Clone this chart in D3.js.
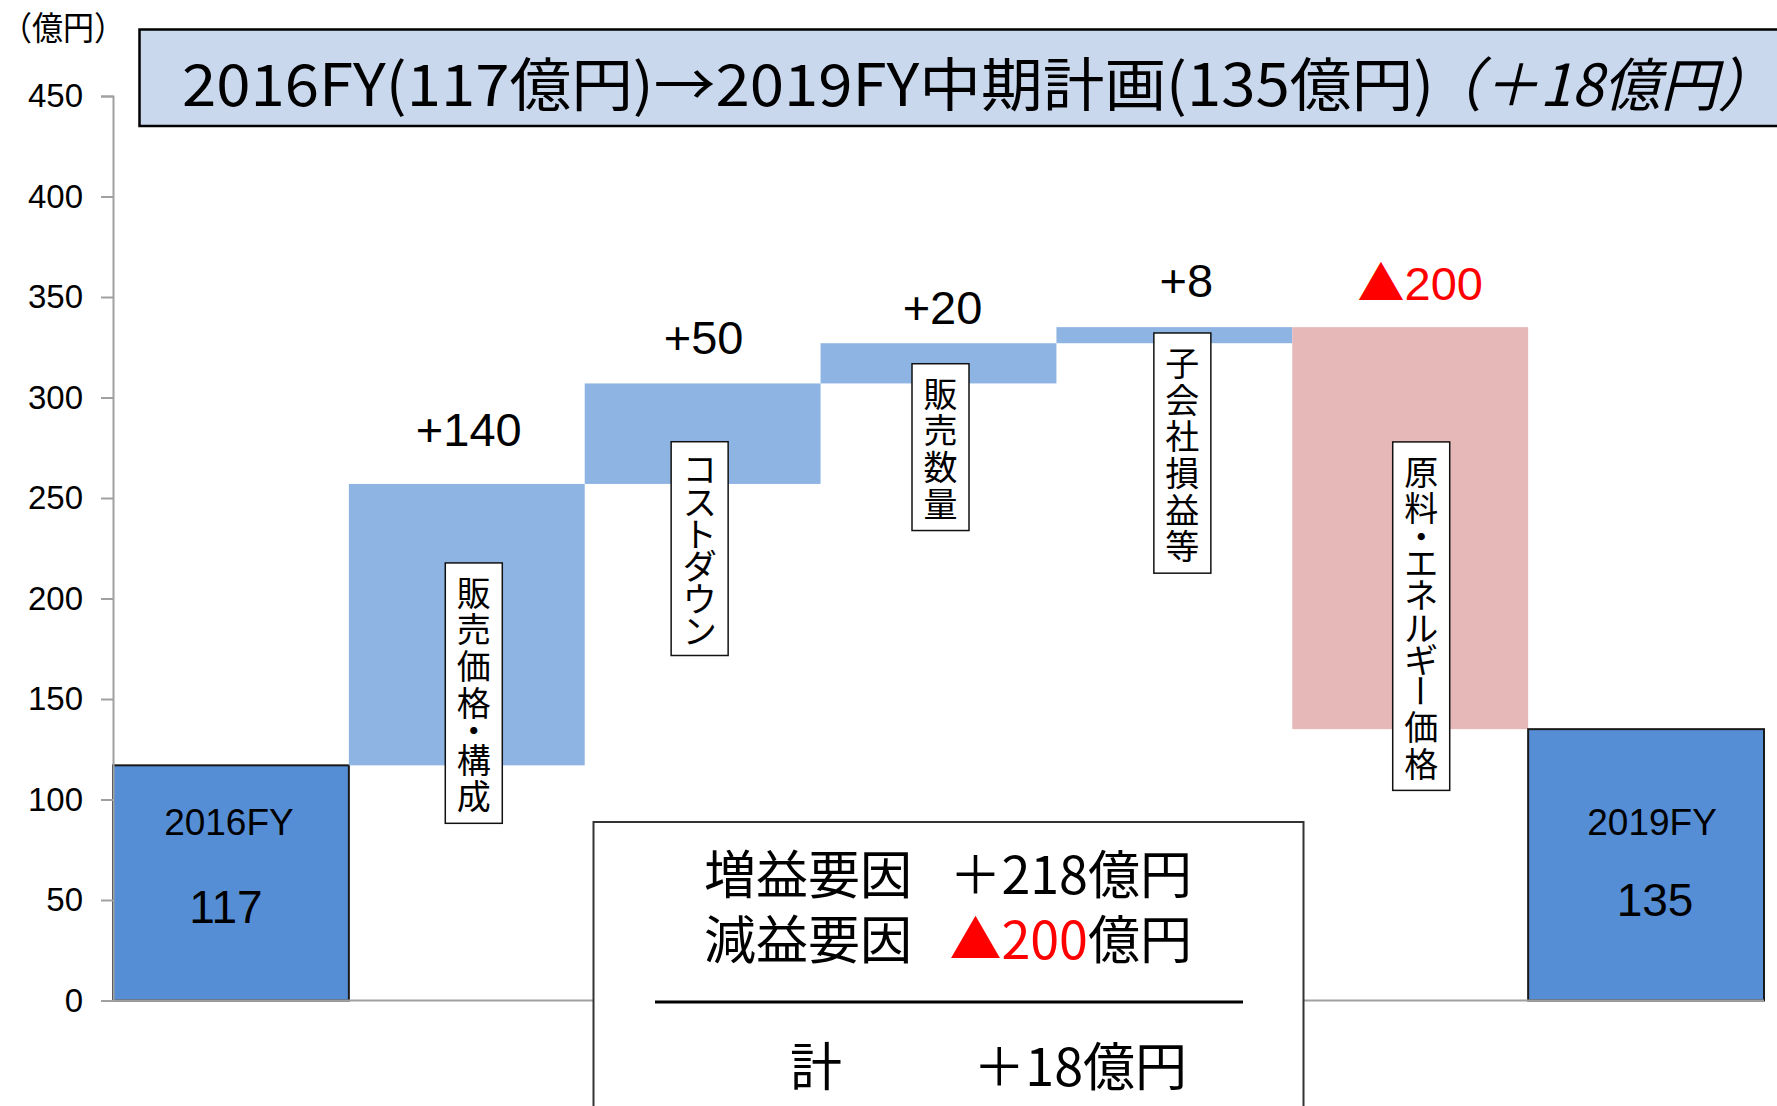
<!DOCTYPE html>
<html><head><meta charset="utf-8">
<script src="https://cdn.jsdelivr.net/npm/d3@7"></script>
<style>
html,body{margin:0;padding:0;background:#fff;}
svg{display:block;}
</style></head><body>
<svg id="chart" width="1777" height="1106"></svg>
<script>
// ---- data ----
const categories = ["2016FY","販売価格・構成","コストダウン","販売数量","子会社損益等","原料・エネルギー価格","2019FY"];
const kinds = ["total","up","up","up","up","down","total"];
const values = [117, 140, 50, 20, 8, -200, 135];
const valueLabels = ["117","+140","+50","+20","+8","▲200","135"];
const yTicks = [0,50,100,150,200,250,300,350,400,450];
const unitLabel = "（億円）";
const titleMain = "2016FY(117億円)→2019FY中期計画(135億円)";
const titleDelta = "（＋18億円）";
const summaryRows = [
  {name:"増益要因", parts:[{t:"＋218", red:false},{t:"億円", red:false}]},
  {name:"減益要因", parts:[{t:"▲", red:true},{t:"200", red:true},{t:"億円", red:false}]}
];
const summaryTotal = {name:"計", value:"＋18億円"};

// ---- layout / style ----
const svg = d3.select("#chart");
const x = d3.scaleBand().domain(categories).range([113,1764]).paddingInner(0).paddingOuter(0);
const y = d3.scaleLinear().domain([0,450]).range([1000.5,96]);
const colors = {total:"#558ED5", up:"#8EB4E3", down:"#E6B9B8"};
const CJK = "'Noto Sans CJK JP','Noto Sans CJK SC',sans-serif";
const LAT = "'Liberation Sans',Arial,'Noto Sans CJK JP',sans-serif";

let run = 0;
const bars = categories.map((c,i)=>{
  let lo, hi;
  if (kinds[i]==="total"){ lo=0; hi=values[i]; run=values[i]; }
  else { const s=run, e=run+values[i]; lo=Math.min(s,e); hi=Math.max(s,e); run=e; }
  return {c, i, lo, hi, kind:kinds[i]};
});

// bars
svg.append("g").selectAll("rect").data(bars).join("rect")
  .attr("x", d=>x(d.c)).attr("width", x.bandwidth())
  .attr("y", d=>y(d.hi)).attr("height", d=>y(d.lo)-y(d.hi))
  .attr("fill", d=>colors[d.kind])
  .attr("stroke", d=>d.kind==="total" ? "#1a1a1a" : "none")
  .attr("stroke-width", 2);

// axis
const ax = d3.axisLeft(y).tickValues(yTicks).tickSize(12).tickPadding(18).tickFormat(d3.format("d"));
const g = svg.append("g").attr("transform","translate(113,0)").call(ax);
g.select(".domain").attr("stroke","#a0a0a0").attr("stroke-width",2);
g.selectAll(".tick line").attr("stroke","#a0a0a0").attr("stroke-width",2);
g.selectAll(".tick text").attr("font-family",LAT).attr("font-size",33).attr("fill","#000");
svg.append("line").attr("x1",113).attr("x2",x.range()[1]).attr("y1",y(0)).attr("y2",y(0))
  .attr("stroke","#a0a0a0").attr("stroke-width",2);

// unit label
svg.append("text").attr("x",1).attr("y",40).attr("font-family",CJK).attr("font-size",33)
  .attr("textLength",124).attr("lengthAdjust","spacingAndGlyphs").text(unitLabel);

// vertical category boxes (annotation layout)
const boxLayout = [null,{dx:7,top:217.7},{dx:-3,top:278},{dx:2,top:316.8},{dx:8,top:332.1},{dx:11,top:277.9},null];
const pitch = 36.7, pad = 10, boxW = 57;
function weight(ch){
  if (ch==="・") return 0.55;
  const cp = ch.codePointAt(0);
  if (cp>=0x30A0 && cp<=0x30FF) return 0.88;
  return 1;
}
bars.forEach(b=>{
  const L = boxLayout[b.i]; if(!L) return;
  const chars = Array.from(b.c);
  const total = d3.sum(chars, weight);
  const cx = x(b.c)+x.bandwidth()/2+L.dx;
  const top = y(L.top);
  const bg = svg.append("g");
  bg.append("rect").attr("x",cx-boxW/2).attr("y",top).attr("width",boxW).attr("height",pad*2+total*pitch)
    .attr("fill","#fff").attr("stroke","#111").attr("stroke-width",1.5);
  let cum = 0;
  chars.forEach(ch=>{
    const w = weight(ch);
    const cy = top+pad+(cum+w/2)*pitch;
    cum += w;
    const t = bg.append("text").attr("x",cx).attr("y",cy).attr("text-anchor","middle")
      .attr("dominant-baseline","central").attr("font-family",CJK).attr("font-size",34).text(ch);
    if (ch==="ー") t.attr("transform",`rotate(90,${cx},${cy})`);
  });
});

// value labels above delta bars
const valueLayout = [null,{dx:2,lift:38},{dx:1,lift:29},{dx:4,lift:19},{dx:12,lift:30},{dx:10,lift:27},null];
bars.forEach(b=>{
  const L = valueLayout[b.i]; if(!L) return;
  const lab = valueLabels[b.i];
  const t = svg.append("text").attr("x",x(b.c)+x.bandwidth()/2+L.dx).attr("y",y(b.hi)-L.lift)
    .attr("text-anchor","middle").attr("font-family",LAT).attr("font-size",47)
    .attr("fill", b.kind==="down" ? "#FF0000" : "#000");
  if (lab.startsWith("▲")) {
    t.append("tspan").attr("font-family",CJK).text("▲");
    t.append("tspan").text(lab.slice(1));
  } else t.text(lab);
});

// total labels inside total bars
const totalLayout = [{dxN:-2,dxV:-5,nameAt:82.3,valAt:38.6},null,null,null,null,null,{dxN:6,dxV:9,nameAt:82.3,valAt:42}];
bars.forEach(b=>{
  const L = totalLayout[b.i]; if(!L) return;
  const cx = x(b.c)+x.bandwidth()/2;
  svg.append("text").attr("x",cx+L.dxN).attr("y",y(L.nameAt)).attr("text-anchor","middle")
    .attr("font-family",LAT).attr("font-size",37).text(b.c);
  svg.append("text").attr("x",cx+L.dxV).attr("y",y(L.valAt)).attr("text-anchor","middle")
    .attr("font-family",LAT).attr("font-size",46).text(valueLabels[b.i]);
});

// summary box
svg.append("rect").attr("x",593.5).attr("y",822).attr("width",710).attr("height",320)
  .attr("fill","#fff").attr("stroke","#333").attr("stroke-width",2);
const rowBase = [894, 959];
summaryRows.forEach((r,k)=>{
  svg.append("text").attr("x",704).attr("y",rowBase[k]).attr("font-family",CJK).attr("font-size",52).text(r.name);
  const t = svg.append("text").attr("x",1192).attr("y",rowBase[k]).attr("text-anchor","end")
    .attr("font-family",CJK).attr("font-size",52);
  r.parts.forEach(p=>t.append("tspan").attr("fill",p.red?"#FF0000":"#000").text(p.t));
});
svg.append("line").attr("x1",655).attr("x2",1243).attr("y1",1002).attr("y2",1002)
  .attr("stroke","#000").attr("stroke-width",3);
svg.append("text").attr("x",790).attr("y",1086).attr("font-family",CJK).attr("font-size",52).text(summaryTotal.name);
svg.append("text").attr("x",1187).attr("y",1086).attr("text-anchor","end").attr("font-family",CJK).attr("font-size",52).text(summaryTotal.value);

// title
svg.append("rect").attr("x",139.5).attr("y",29.5).attr("width",1700).attr("height",96.5)
  .attr("fill","#CAD8EE").attr("stroke","#000").attr("stroke-width",2.5);
svg.append("text").attr("x",182).attr("y",106).attr("font-family",CJK).attr("font-size",58)
  .attr("textLength",1252).attr("lengthAdjust","spacingAndGlyphs").text(titleMain);
svg.append("text").attr("x",1425).attr("y",106).attr("font-family",CJK).attr("font-size",58)
  .attr("font-style","italic").attr("textLength",350).attr("lengthAdjust","spacingAndGlyphs").text(titleDelta);
</script>
</body></html>
